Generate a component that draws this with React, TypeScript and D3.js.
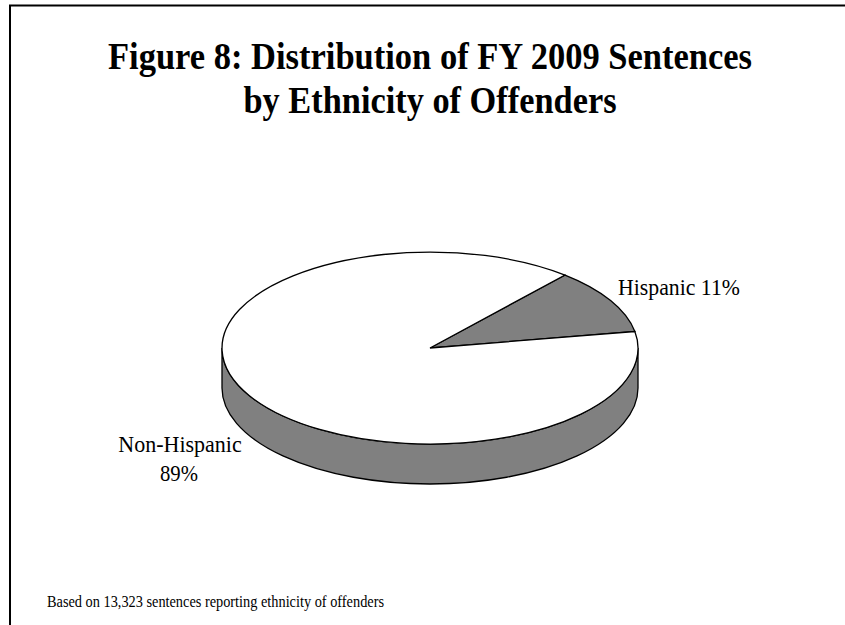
import * as d3 from "d3";

const titleLines = ["Figure 8: Distribution of FY 2009 Sentences", "by Ethnicity of Offenders"];
const categories = ["Hispanic", "Non-Hispanic"];
const shares = [11, 89];
const sliceColors = ["#808080", "#ffffff"];
const footnote = "Based on 13,323 sentences reporting ethnicity of offenders";

const W = 845;
const H = 625;
const CX = 430;
const CY = 348;
const RX = 208;
const RY = 96;
const DEPTH = 40;
const START_ANGLE = (40.5 * Math.PI) / 180;
const FONT = "'Liberation Serif', 'Times New Roman', serif";

export default function App() {
  const pie = d3
    .pie<number>()
    .sort(null)
    .startAngle(START_ANGLE)
    .endAngle(START_ANGLE + Math.PI * 2);
  const arcs = pie(shares);
  const arc = d3.arc<d3.PieArcDatum<number>>().innerRadius(0).outerRadius(1);

  const wall = `M${CX - RX},${CY}V${CY + DEPTH}A${RX},${RY} 0 0 0 ${CX + RX},${CY + DEPTH}V${CY}A${RX},${RY} 0 0 1 ${CX - RX},${CY}Z`;

  return (
    <svg
      width={W}
      height={H}
      style={{ position: "absolute", left: 0, top: 0, background: "#fff", fontFamily: FONT }}
    >
      <path d={`M10,${H}V5.5H${W}`} fill="none" stroke="#000" strokeWidth={2} />
      {titleLines.map((line, i) => (
        <text
          key={line}
          x={430}
          y={69 + i * 43.5}
          textAnchor="middle"
          fontWeight="bold"
          fontSize={37}
          fill="#000"
          textLength={i === 0 ? 644 : 373}
          lengthAdjust="spacingAndGlyphs"
        >
          {line}
        </text>
      ))}
      <path d={wall} fill={sliceColors[0]} stroke="#000" strokeWidth={1.3} />
      <g transform={`translate(${CX},${CY}) scale(${RX},${RY})`}>
        {arcs.map((d, i) => (
          <path
            key={categories[i]}
            d={arc(d) ?? ""}
            fill={sliceColors[i]}
            stroke="#000"
            strokeWidth={1.3}
            vectorEffect="non-scaling-stroke"
          />
        ))}
      </g>
      <text x={618} y={295} fontSize={24} fill="#000" textLength={122} lengthAdjust="spacingAndGlyphs">
        {`${categories[0]} ${shares[0]}%`}
      </text>
      <text x={180} y={451.5} textAnchor="middle" fontSize={24} fill="#000" textLength={123.5} lengthAdjust="spacingAndGlyphs">
        {categories[1]}
      </text>
      <text x={179} y={480.5} textAnchor="middle" fontSize={24} fill="#000" textLength={38} lengthAdjust="spacingAndGlyphs">
        {`${shares[1]}%`}
      </text>
      <text x={47} y={607} fontSize={16} fill="#000" textLength={337} lengthAdjust="spacingAndGlyphs">
        {footnote}
      </text>
    </svg>
  );
}
